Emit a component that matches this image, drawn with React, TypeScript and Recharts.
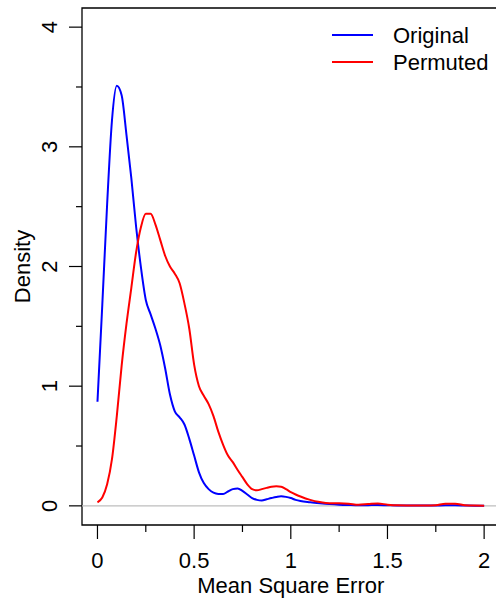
import { LineChart, Line, XAxis, YAxis, ReferenceLine, ReferenceArea, Legend } from "recharts";

const xs = [
  0, 0.025, 0.05, 0.075, 0.1, 0.125, 0.15, 0.175, 0.2, 0.225, 0.25, 0.275, 0.3, 0.325, 0.35,
  0.375, 0.4, 0.425, 0.45, 0.475, 0.5, 0.525, 0.55, 0.575, 0.6, 0.625, 0.65, 0.675, 0.7,
  0.725, 0.75, 0.775, 0.8, 0.825, 0.85, 0.875, 0.9, 0.925, 0.95, 0.975, 1.0, 1.025, 1.05,
  1.1, 1.15, 1.2, 1.25, 1.3, 1.35, 1.4, 1.45, 1.5, 1.55, 1.6, 1.65, 1.7, 1.75, 1.8, 1.85,
  1.9, 1.95, 2.0,
];

const original = [
  0.87, 1.68, 2.52, 3.22, 3.51, 3.43, 3.1, 2.74, 2.33, 1.99, 1.72, 1.6, 1.48, 1.34, 1.15,
  0.93, 0.79, 0.74, 0.68, 0.56, 0.42, 0.28, 0.19, 0.14, 0.11, 0.1, 0.1, 0.12, 0.14,
  0.145, 0.125, 0.095, 0.065, 0.05, 0.045, 0.055, 0.065, 0.074, 0.08, 0.075, 0.065, 0.05, 0.04,
  0.03, 0.022, 0.015, 0.01, 0.007, 0.005, 0.006, 0.007, 0.005, 0.003, 0.002, 0.002, 0.002,
  0.003, 0.005, 0.005, 0.003, 0.001, 0.001,
];

const permuted = [
  0.03, 0.07, 0.18, 0.39, 0.75, 1.17, 1.52, 1.82, 2.12, 2.33, 2.44, 2.44, 2.35, 2.22, 2.09,
  2.0, 1.94, 1.86, 1.69, 1.48, 1.18, 1.0, 0.92, 0.85, 0.75, 0.62, 0.51, 0.42, 0.365,
  0.3, 0.24, 0.18, 0.14, 0.13, 0.14, 0.15, 0.16, 0.163, 0.16, 0.14, 0.115, 0.095, 0.078,
  0.05, 0.032, 0.022, 0.022, 0.018, 0.01, 0.015, 0.02, 0.01, 0.004, 0.003, 0.003, 0.003,
  0.006, 0.018, 0.018, 0.006, 0.002, 0.001,
];

const xTicks = [0, 0.25, 0.5, 0.75, 1, 1.25, 1.5, 1.75, 2];
const yTicks = [0, 0.5, 1, 1.5, 2, 2.5, 3, 3.5, 4];

const data = xs.map((x, i) => ({ x, original: original[i], permuted: permuted[i] }));

const font = "'Liberation Sans', Arial, Helvetica, sans-serif";

const XTick = ({ x, y, payload }: any) => {
  const v = payload.value;
  const major = v % 0.5 === 0;
  return (
    <g>
      <line x1={x} x2={x} y1={y} y2={y + (major ? 14 : 7)} stroke="#000" strokeWidth={1.2} />
      {major && (
        <text x={x} y={y + 43} textAnchor="middle" fontSize={22} fontFamily={font} fill="#000">
          {String(v)}
        </text>
      )}
    </g>
  );
};

const YTick = ({ x, y, payload }: any) => {
  const v = payload.value;
  const major = v % 1 === 0;
  return (
    <g>
      <line x1={x - (major ? 13 : 6)} x2={x} y1={y} y2={y} stroke="#000" strokeWidth={1.2} />
      {major && (
        <text
          x={57}
          y={y}
          transform={`rotate(-90 57 ${y})`}
          textAnchor="middle"
          fontSize={22}
          fontFamily={font}
          fill="#000"
        >
          {String(v)}
        </text>
      )}
    </g>
  );
};

const renderLegend = ({ payload }: any) => (
  <svg width={496} height={90}>
    {(payload || []).map((p: any, i: number) => (
      <g key={p.value}>
        <line x1={332} x2={373} y1={35 + i * 27} y2={35 + i * 27} stroke={p.color} strokeWidth={2} />
        <text x={393} y={43 + i * 27} fontSize={22} fontFamily={font} fill="#000">
          {p.value}
        </text>
      </g>
    ))}
  </svg>
);

const App = () => {
  return (
    <div style={{ position: "absolute", left: 0, top: 0, width: 496, height: 602, overflow: "hidden", background: "#fff" }}>
      <LineChart width={504} height={602} data={data} margin={{ top: 8, right: 4.4, bottom: 0, left: 0 }}>
        <XAxis
          dataKey="x"
          type="number"
          domain={[-0.08, 2.08]}
          allowDataOverflow
          ticks={xTicks}
          interval={0}
          tick={<XTick />}
          tickLine={false}
          axisLine={false}
          tickSize={0}
          tickMargin={0}
          height={77}
          label={{ value: "Mean Square Error", position: "insideBottom", offset: 9, fontSize: 22, fill: "#000", fontFamily: font }}
        />
        <YAxis
          type="number"
          domain={[-0.16, 4.16]}
          allowDataOverflow
          ticks={yTicks}
          interval={0}
          tick={<YTick />}
          tickLine={false}
          axisLine={false}
          tickSize={0}
          tickMargin={0}
          width={82}
          label={{
            value: "Density",
            angle: -90,
            position: "insideLeft",
            offset: 22.6,
            fontSize: 22,
            fill: "#000",
            fontFamily: font,
            style: { textAnchor: "middle" },
          }}
        />
        <ReferenceArea x1={-0.08} x2={2.08} y1={-0.16} y2={4.16} fill="none" stroke="#000" strokeWidth={1.3} />
        <ReferenceLine y={0} stroke="#bebebe" strokeWidth={1.2} />
        <Line type="monotone" dataKey="original" name="Original" stroke="#0000ff" strokeWidth={2} dot={false} isAnimationActive={false} />
        <Line type="monotone" dataKey="permuted" name="Permuted" stroke="#ff0000" strokeWidth={2} dot={false} isAnimationActive={false} />
        <Legend
          layout="horizontal"
          verticalAlign="middle"
          align="center"
          content={renderLegend}
          wrapperStyle={{ position: "absolute", left: 0, top: 0, width: 496, height: 90 }}
        />
      </LineChart>
    </div>
  );
};

export default App;
